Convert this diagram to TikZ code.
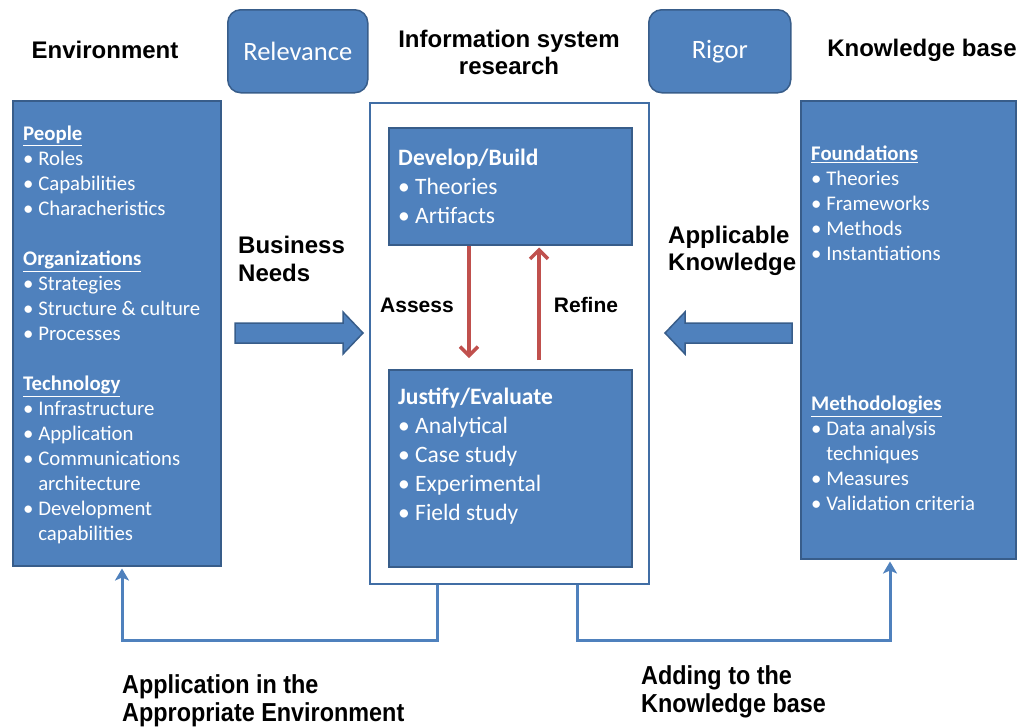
\documentclass[tikz,border=0pt]{standalone}
\usepackage{fontspec}
\setmainfont{Carlito}
\newfontfamily\arialfont{Liberation Sans}
\newfontfamily\narrowfont{Liberation Sans}[FakeStretch=0.9]
\usetikzlibrary{arrows.meta,calc}
\definecolor{boxblue}{RGB}{79,129,189}
\definecolor{boxborder}{RGB}{56,93,138}
\definecolor{outerblue}{RGB}{65,110,165}
\definecolor{arrred}{RGB}{192,80,77}
\definecolor{connblue}{RGB}{79,129,189}
\newcommand{\hd}[1]{\underline{\textbf{#1}}}
\newcommand{\itm}[1]{\textbullet\ #1}
\newcommand{\cont}[1]{\hphantom{\textbullet\ }#1}
\begin{document}
\begin{tikzpicture}[x=1pt,y=-1pt,
  bluebox/.style={draw=boxborder, line width=1.5pt, fill=boxblue, inner sep=0pt, anchor=north west},
  roundbox/.style={bluebox, rounded corners=13pt, text=white, font=\fontsize{26.5}{30}\selectfont},
  outerbox/.style={draw=outerblue, line width=2pt, fill=white, inner sep=0pt, anchor=north west},
  listtext/.style={text=white, align=left, inner sep=0pt, anchor=north west, font=\fontsize{20.8}{25}\selectfont},
  bigtext/.style={text=white, align=left, inner sep=0pt, anchor=north west, font=\fontsize{23.5}{29}\selectfont},
  title/.style={font=\arialfont\bfseries\fontsize{24}{27}\selectfont, align=center, inner sep=0pt},
  sidelabel/.style={font=\arialfont\bfseries\fontsize{24}{27.5}\selectfont, align=left, inner sep=0pt, anchor=west},
  looplabel/.style={font=\arialfont\bfseries\fontsize{21}{24}\selectfont, inner sep=0pt},
  bottomlabel/.style={font=\narrowfont\bfseries\fontsize{26}{27.5}\selectfont, align=left, inner sep=0pt, anchor=west},
  bigarrow/.style={draw=boxborder, line width=1.5pt, fill=boxblue, line join=miter},
  redarrow/.style={draw=arrred, line width=3.5pt, -{Straight Barb[length=9pt,width=18pt]}},
  conn/.style={draw=connblue, line width=3pt, -{Stealth[length=12pt,width=14pt,inset=3pt]}}
]
\useasboundingbox (0,0) rectangle (1023,726);

% titles
\node[title] (envtitle) at (105,50) {Environment};
\node[roundbox, minimum width=140pt, minimum height=83pt] (rel) at (227,9) {Relevance};
\node[title] (istitle) at (509,52) {Information system\\research};
\node[roundbox, minimum width=142pt, minimum height=83pt] (rig) at (648,9) {Rigor};
\node[title] (kbtitle) at (922,50) {Knowledge base};

% left box
\node[bluebox, minimum width=208pt, minimum height=465pt] (env) at (12,100) {};
\node[listtext] (envtext) at (23,126) {\hd{People}\\ \itm{Roles}\\ \itm{Capabilities}\\ \itm{Characheristics}\\[25pt]
\hd{Organizations}\\ \itm{Strategies}\\ \itm{Structure \& culture}\\ \itm{Processes}\\[25pt]
\hd{Technology}\\ \itm{Infrastructure}\\ \itm{Application}\\ \itm{Communications}\\ \cont{architecture}\\ \itm{Development}\\ \cont{capabilities}};

% centre
\node[outerbox, minimum width=279pt, minimum height=481pt] (outer) at (369,102) {};
\node[bluebox, minimum width=243pt, minimum height=117pt] (dev) at (388,127) {};
\node[bigtext] (devtext) at (398,149) {\textbf{Develop/Build}\\ \itm{Theories}\\ \itm{Artifacts}};
\node[bluebox, minimum width=243pt, minimum height=197pt] (just) at (388,369) {};
\node[bigtext] (justtext) at (398,388) {\textbf{Justify/Evaluate}\\ \itm{Analytical}\\ \itm{Case study}\\ \itm{Experimental}\\ \itm{Field study}};

\draw[redarrow] ($(dev.south west)+(81,0)$) -- ($(just.north west)+(81,-11)$);
\draw[redarrow] ($(just.north west)+(151,-9)$) -- ($(dev.south west)+(151,2)$);
\node[looplabel] (assess) at (417,305) {Assess};
\node[looplabel] (refine) at (586,305) {Refine};

% right box
\node[bluebox, minimum width=215pt, minimum height=458pt] (kb) at (800,100) {};
\node[listtext] (kbtext1) at (811,146) {\hd{Foundations}\\ \itm{Theories}\\ \itm{Frameworks}\\ \itm{Methods}\\ \itm{Instantiations}};
\node[listtext] (kbtext2) at (811,396) {\hd{Methodologies}\\ \itm{Data analysis}\\ \cont{techniques}\\ \itm{Measures}\\ \itm{Validation criteria}};

% side labels and big arrows
\node[sidelabel] (bn) at (238,259) {Business\\Needs};
\path[bigarrow] (235,323) -- (343,323) -- (343,312) -- (363,333) -- (343,354) -- (343,343) -- (235,343) -- cycle;
\node[sidelabel] (ak) at (668,251) {Applicable\\Knowledge};
\path[bigarrow] (792,323) -- (685,323) -- (685,312) -- (665,333) -- (685,354) -- (685,343) -- (792,343) -- cycle;

% bottom connectors
\draw[conn] ($(outer.south west)+(68,0)$) -- ++(0,55) -| ($(env.south west)+(110,2)$);
\draw[conn] ($(outer.south west)+(208,0)$) -- ++(0,55) -| ($(kb.south west)+(90,2)$);

\node[bottomlabel] (app) at (122,701) {Application in the\\Appropriate Environment};
\node[bottomlabel] (add) at (641,692) {Adding to the\\Knowledge base};
\end{tikzpicture}
\end{document}
